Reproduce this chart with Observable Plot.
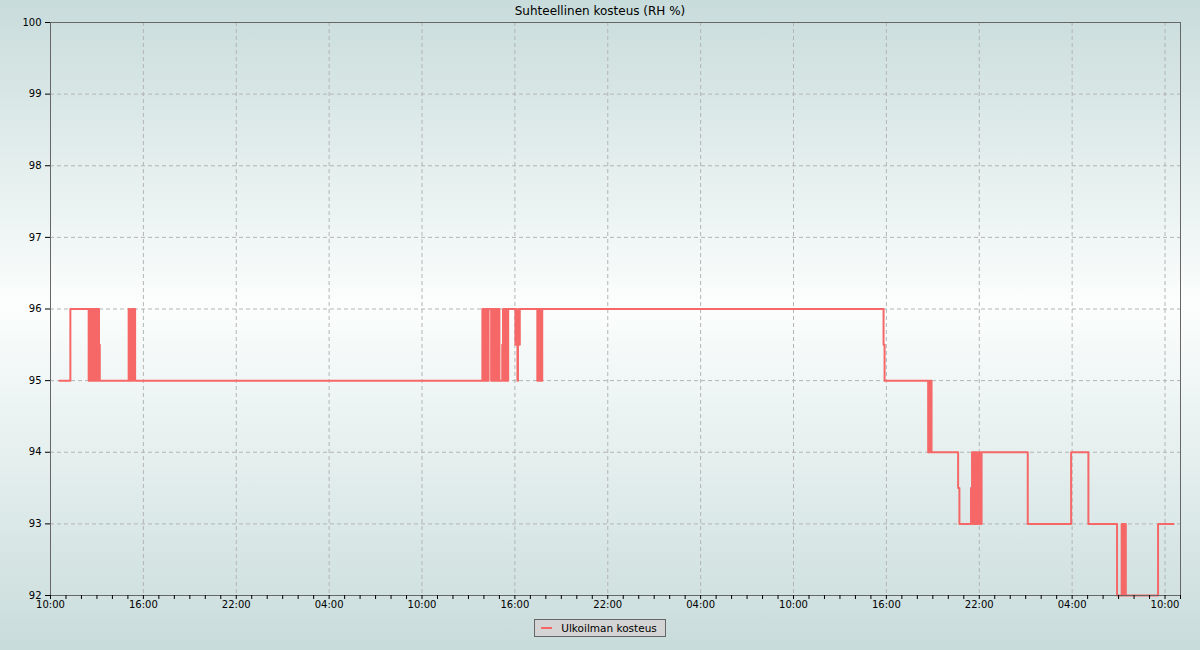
<!DOCTYPE html>
<html>
<head>
<meta charset="utf-8">
<script src="https://cdn.jsdelivr.net/npm/d3@7"></script>
<script src="https://cdn.jsdelivr.net/npm/@observablehq/plot@0.6"></script>
<style>
  html, body { margin: 0; padding: 0; }
  body {
    width: 1200px; height: 650px; overflow: hidden;
    background: linear-gradient(to bottom, #c8dcdb 0%, #fbfefd 47%, #c8dcdb 100%);
    font-family: "DejaVu Sans", sans-serif;
  }
  #title { height: 13px; padding-top: 3px; line-height: 16px; text-align: center; font-size: 12px; color: #000; overflow: visible; }
  #chart svg { display: block; overflow: visible; }
  #legend { display: flex; justify-content: center; margin-top: 7px; }
  #legend .box { display: flex; align-items: center; height: 16px; padding: 0 8px 0 6px; background: #d4d4d4; border: 1px solid #666; font-size: 10.5px; color: #000; }
  #legend .sw { width: 11px; height: 2px; background: #f66868; margin-right: 9px; }
</style>
</head>
<body>
<div id="title">Suhteellinen kosteus (RH %)</div>
<div id="chart"></div>
<div id="legend"><div class="box"><span class="sw"></span><span>Ulkoilman kosteus</span></div></div>
<script>
const seriesName = "Ulkoilman kosteus";
const yTickValues = [92, 93, 94, 95, 96, 97, 98, 99, 100];
const xDomain = ["2023-10-10T10:00Z", "2023-10-13T11:00Z"];
const xLabelEveryHours = 6;

// readings: [time (UTC), relative humidity %]
const readings = [
  ["2023-10-10T10:35", 95], ["2023-10-10T11:17", 96],
  ["2023-10-10T12:28", 95], ["2023-10-10T12:31", 96], ["2023-10-10T12:34", 95], ["2023-10-10T12:37", 96],
  ["2023-10-10T12:40", 95], ["2023-10-10T12:43", 96], ["2023-10-10T12:46", 95], ["2023-10-10T12:49", 96],
  ["2023-10-10T12:52", 95], ["2023-10-10T12:55", 96], ["2023-10-10T12:58", 95], ["2023-10-10T13:01", 96],
  ["2023-10-10T13:04", 95], ["2023-10-10T13:06", 96], ["2023-10-10T13:08", 95.5], ["2023-10-10T13:11", 95],
  ["2023-10-10T15:03", 96], ["2023-10-10T15:07", 95], ["2023-10-10T15:14", 96], ["2023-10-10T15:18", 95],
  ["2023-10-10T15:21", 96], ["2023-10-10T15:28", 95],
  ["2023-10-11T13:54", 96], ["2023-10-11T13:58", 95], ["2023-10-11T14:02", 96], ["2023-10-11T14:06", 95],
  ["2023-10-11T14:10", 96], ["2023-10-11T14:14", 95], ["2023-10-11T14:18", 96],
  ["2023-10-11T14:28", 95], ["2023-10-11T14:32", 96], ["2023-10-11T14:36", 95], ["2023-10-11T14:40", 96],
  ["2023-10-11T14:44", 95], ["2023-10-11T14:48", 96], ["2023-10-11T14:52", 95], ["2023-10-11T14:56", 96],
  ["2023-10-11T15:00", 95],
  ["2023-10-11T15:11", 95.5], ["2023-10-11T15:14", 96], ["2023-10-11T15:17", 95], ["2023-10-11T15:20", 96],
  ["2023-10-11T15:23", 95], ["2023-10-11T15:26", 96], ["2023-10-11T15:30", 95], ["2023-10-11T15:34", 96],
  ["2023-10-11T16:02", 95.5], ["2023-10-11T16:05", 96], ["2023-10-11T16:08", 95.5], ["2023-10-11T16:10", 95],
  ["2023-10-11T16:12", 95.5], ["2023-10-11T16:15", 96], ["2023-10-11T16:17", 95.5], ["2023-10-11T16:19", 96],
  ["2023-10-11T17:27", 95], ["2023-10-11T17:31", 96], ["2023-10-11T17:35", 95], ["2023-10-11T17:39", 96],
  ["2023-10-11T17:43", 95], ["2023-10-11T17:46", 96],
  ["2023-10-12T15:49", 95.5], ["2023-10-12T15:53", 95],
  ["2023-10-12T18:42", 94], ["2023-10-12T18:45", 95], ["2023-10-12T18:48", 94], ["2023-10-12T18:51", 95],
  ["2023-10-12T18:55", 94],
  ["2023-10-12T20:38", 93.5], ["2023-10-12T20:43", 93],
  ["2023-10-12T21:28", 93.5], ["2023-10-12T21:32", 94], ["2023-10-12T21:34", 93], ["2023-10-12T21:36", 94],
  ["2023-10-12T21:38", 93], ["2023-10-12T21:40", 94], ["2023-10-12T21:42", 93], ["2023-10-12T21:45", 94],
  ["2023-10-12T21:49", 93], ["2023-10-12T21:53", 94],
  ["2023-10-12T21:59", 93], ["2023-10-12T22:02", 94], ["2023-10-12T22:05", 93], ["2023-10-12T22:09", 94],
  ["2023-10-13T01:08", 93],
  ["2023-10-13T03:56", 94],
  ["2023-10-13T05:03", 93],
  ["2023-10-13T06:54", 92],
  ["2023-10-13T07:12", 93], ["2023-10-13T07:15", 92], ["2023-10-13T07:18", 93], ["2023-10-13T07:21", 92],
  ["2023-10-13T07:24", 93], ["2023-10-13T07:28", 92],
  ["2023-10-13T09:33", 93],
  ["2023-10-13T10:33", 93]
];

const data = readings.map(([t, v]) => ({time: new Date(t + "Z"), rh: v, series: seriesName}));
const domain = xDomain.map(d => new Date(d));
const hourTicks = d3.utcHour.range(domain[0], new Date(+domain[1] + 1));
const isMajor = d => (d.getUTCHours() - 10 + 24) % xLabelEveryHours === 0;
const majorTicks = hourTicks.filter(isMajor);
const fmt = d3.utcFormat("%H:%M");

const chart = Plot.plot({
  width: 1200,
  height: 596,
  marginLeft: 50,
  marginRight: 20,
  marginTop: 6,
  marginBottom: 17,
  style: {background: "transparent", fontFamily: "DejaVu Sans", fontSize: "10px", color: "#000", overflow: "visible"},
  x: {type: "utc", domain, label: null},
  y: {domain: [92, 100], label: null},
  marks: [
    Plot.gridY(yTickValues.slice(1, -1), {stroke: "#b4b4b4", strokeOpacity: 1, strokeDasharray: "4,3"}),
    Plot.gridX(majorTicks.slice(1), {stroke: "#b4b4b4", strokeOpacity: 1, strokeDasharray: "4,3"}),
    Plot.line(data, {x: "time", y: "rh", curve: "step-after", stroke: "#f66868", strokeWidth: 2}),
    Plot.frame({stroke: "#666", strokeWidth: 1}),
    Plot.axisY(yTickValues, {tickSize: 5, tickPadding: 4, stroke: "#000", tickFormat: d => String(d)}),
    Plot.axisX(hourTicks, {tickSize: 4, tickPadding: 1, stroke: "#000", tickFormat: d => isMajor(d) ? fmt(d) : ""})
  ]
});
document.getElementById("chart").appendChild(chart);
</script>
</body>
</html>
